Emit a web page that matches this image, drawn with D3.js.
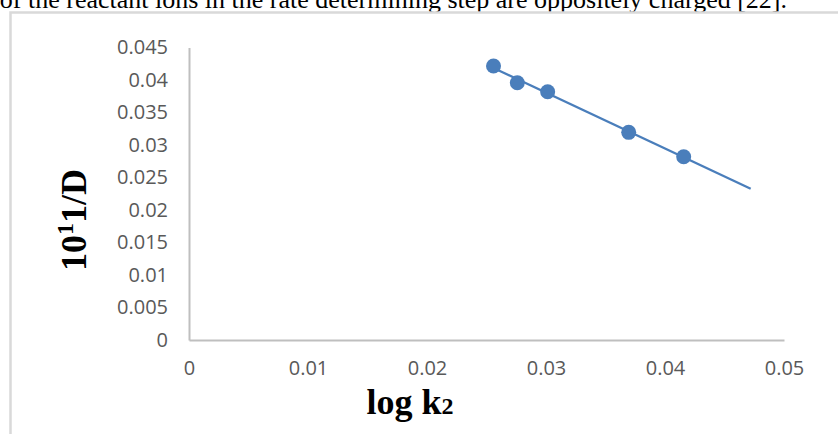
<!DOCTYPE html>
<html>
<head>
<meta charset="utf-8">
<script src="https://cdn.jsdelivr.net/npm/d3@7"></script>
<style>
  html, body { margin: 0; padding: 0; background: #fff; }
  svg { display: block; }
</style>
</head>
<body>
<svg id="chart" width="838" height="434"></svg>
<script>
// Measured points: log k2 against 10^11/D
const logK2 = [0.02559, 0.02759, 0.03014, 0.03695, 0.04157];
const invD = [0.04215, 0.03958, 0.0382, 0.03195, 0.0282];

// Axis ticks
const xTicks = [0, 0.01, 0.02, 0.03, 0.04, 0.05];
const yTicks = [0, 0.005, 0.01, 0.015, 0.02, 0.025, 0.03, 0.035, 0.04, 0.045];

// Linear trendline runs from the first point forward to this x value
const trendEnd = 0.0472;

const captionText = "of the reactant ions in the rate determining step are oppositely charged [22].";

const svg = d3.select("#chart");

// plot area
const plotLeft = 189, plotRight = 784, plotTop = 47.5, plotBottom = 340;

const x = d3.scaleLinear().domain([0, 0.05]).range([plotLeft, plotRight]);
const y = d3.scaleLinear().domain([0, 0.045]).range([plotBottom, plotTop]);

// caption line of running text above the figure, cut at the top edge
svg.append("text")
  .attr("x", 787).attr("y", 8)
  .attr("text-anchor", "end")
  .style("font-family", "'Liberation Serif', 'Times New Roman', serif")
  .style("font-size", "26px")
  .attr("fill", "#000")
  .text(captionText);

// figure frame
svg.append("rect")
  .attr("x", 10.5).attr("y", 12.5)
  .attr("width", 900).attr("height", 500)
  .attr("fill", "none")
  .attr("stroke", "#d9d9d9")
  .attr("stroke-width", 2.5);

const tickFont = "'Open Sans', Lato, sans-serif";
const fmt = d => d === 0 ? "0" : String(+d.toFixed(3));

// y axis
const yAxis = d3.axisLeft(y).tickValues(yTicks).tickSize(0).tickPadding(21).tickFormat(fmt);
const gy = svg.append("g").attr("transform", `translate(${plotLeft},0)`).call(yAxis);
gy.select(".domain").attr("stroke", "#bfbfbf").attr("stroke-width", 2);
gy.selectAll("text")
  .style("font-family", tickFont).style("font-size", "20px").attr("fill", "#595959");

// x axis
const xAxis = d3.axisBottom(x).tickValues(xTicks).tickSize(0).tickPadding(21).tickFormat(fmt);
const gx = svg.append("g").attr("transform", `translate(0,${plotBottom})`).call(xAxis);
gx.select(".domain").attr("stroke", "#bfbfbf").attr("stroke-width", 2);
gx.selectAll("text")
  .style("font-family", tickFont).style("font-size", "20px").attr("fill", "#595959");

// least-squares trendline
const n = logK2.length;
const mx = d3.mean(logK2), my = d3.mean(invD);
let sxy = 0, sxx = 0;
for (let i = 0; i < n; i++) {
  sxy += (logK2[i] - mx) * (invD[i] - my);
  sxx += (logK2[i] - mx) ** 2;
}
const slope = sxy / sxx;
const intercept = my - slope * mx;
const x0 = d3.min(logK2);
const trend = [[x0, intercept + slope * x0], [trendEnd, intercept + slope * trendEnd]];

const blue = "#4a7ebb";

svg.append("path")
  .datum(trend)
  .attr("d", d3.line().x(d => x(d[0])).y(d => y(d[1])))
  .attr("fill", "none")
  .attr("stroke", blue)
  .attr("stroke-width", 2.25);

// data points
svg.append("g").selectAll("circle")
  .data(logK2.map((v, i) => [v, invD[i]]))
  .join("circle")
  .attr("cx", d => x(d[0]))
  .attr("cy", d => y(d[1]))
  .attr("r", 7.5)
  .attr("fill", blue);

const serif = "'Liberation Serif', 'Times New Roman', serif";

// x axis title
const xt = svg.append("text")
  .attr("x", 410).attr("y", 414)
  .attr("text-anchor", "middle")
  .style("font-family", serif).style("font-weight", "bold").style("font-size", "36px")
  .attr("fill", "#000");
xt.append("tspan").text("log k");
xt.append("tspan").style("font-size", "24px").text("2");

// y axis title
const yt = svg.append("text")
  .attr("transform", "translate(86,220) rotate(-90)")
  .attr("text-anchor", "middle")
  .style("font-family", serif).style("font-weight", "bold").style("font-size", "36px")
  .attr("fill", "#000");
yt.append("tspan").text("10");
yt.append("tspan").attr("dy", -13).style("font-size", "24px").text("1");
yt.append("tspan").attr("dy", 13).text("1/D");
</script>
</body>
</html>
